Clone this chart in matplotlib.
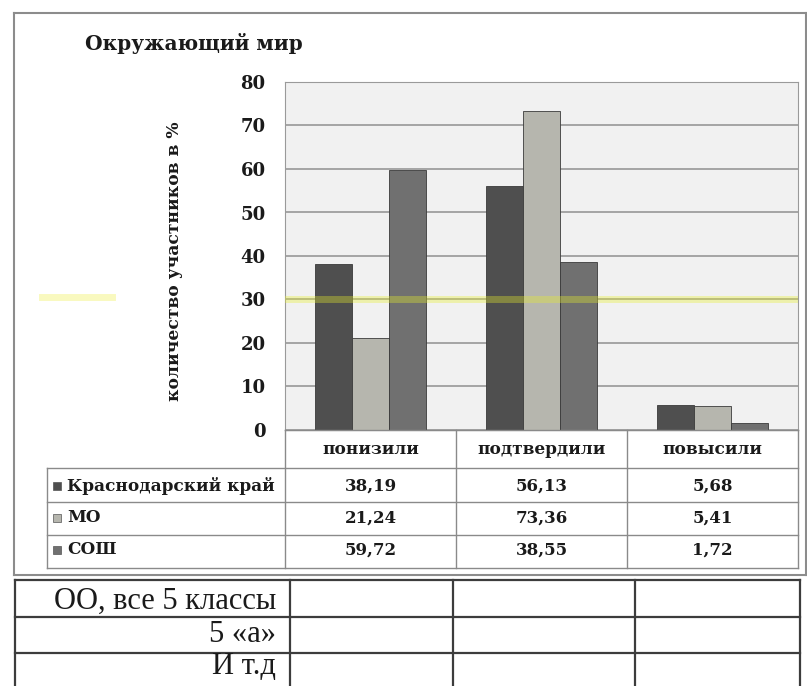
import matplotlib
matplotlib.use("Agg")
import matplotlib.pyplot as plt
from matplotlib.lines import Line2D
from matplotlib.patches import Rectangle

title = "Окружающий мир"
ylabel = "количество участников в %"
categories = ["понизили", "подтвердили", "повысили"]
series_names = ["Краснодарский край", "МО", "СОШ"]
krasnodar = [38.19, 56.13, 5.68]
mo = [21.24, 73.36, 5.41]
sosh = [59.72, 38.55, 1.72]
value_labels = [["38,19", "56,13", "5,68"],
                ["21,24", "73,36", "5,41"],
                ["59,72", "38,55", "1,72"]]
yticks = [0, 10, 20, 30, 40, 50, 60, 70, 80]
bottom_rows = ["ОО, все 5 классы", "5 «а»", "И т.д"]
colors = ["#4f4f4f", "#b6b6ae", "#707070"]

W, H = 807, 686
fig = plt.figure(figsize=(W / 100, H / 100), dpi=100)
fig.patch.set_facecolor("white")
SERIF = ["DejaVu Serif"]
TIMES = ["Liberation Serif", "DejaVu Serif"]


def fx(x):
    return x / W


def fy(y):
    return 1 - y / H


def hline(x0, x1, y, color="#8a8a8a", lw=1.0):
    fig.add_artist(Line2D([fx(x0), fx(x1)], [fy(y), fy(y)], color=color, lw=lw,
                          transform=fig.transFigure))


def vline(x, y0, y1, color="#8a8a8a", lw=1.0):
    fig.add_artist(Line2D([fx(x), fx(x)], [fy(y0), fy(y1)], color=color, lw=lw,
                          transform=fig.transFigure))


def text(x, y, s, size, ha="center", weight="bold", family=SERIF, **kw):
    fig.text(fx(x), fy(y), s, fontsize=size, ha=ha, va="center",
             family=family, weight=weight, color="#1a1a1a", **kw)


# axes region (pixels)
L, R, T, B = 285, 798, 82, 430
ax = fig.add_axes([fx(L), fy(B), fx(R - L), fy(T) - fy(B)])
ax.set_facecolor("#f1f1f1")
ax.set_xlim(-0.5, 2.5)
ax.set_ylim(0, 80)
ax.set_yticks(yticks)
ax.yaxis.grid(True, color="#9e9e9e", lw=1.3)
ax.set_axisbelow(True)
ax.set_xticks([])
ax.tick_params(axis="y", length=0, pad=14)
ax.set_yticklabels([str(v) for v in yticks], family=SERIF, weight="bold",
                   fontsize=13, color="#1a1a1a")
for s in ax.spines.values():
    s.set_color("#9a9a9a")
    s.set_linewidth(0.8)

bw = 0.216
x = list(range(len(categories)))
for i, (vals, c) in enumerate(zip([krasnodar, mo, sosh], colors)):
    ax.bar([xi + (i - 1) * bw for xi in x], vals, width=bw, color=c,
           edgecolor="#3a3a3a", lw=0.6, zorder=3)

# faint highlighter streak (scan artefact)
ax.axhline(30, color="#e8ef2a", lw=5, alpha=0.35, zorder=4)
fig.add_artist(Line2D([fx(42), fx(112)], [fy(297), fy(297)], color="#eef04a",
                      lw=5, alpha=0.35, transform=fig.transFigure))

ax.set_ylabel(ylabel, family=SERIF, weight="bold", fontsize=12.3,
              color="#1a1a1a")
ax.yaxis.set_label_coords((183 - L) / (R - L), 1 - (261 - T) / (B - T),
                          transform=ax.transAxes)

# title
text(85, 43, title, 14.5, ha="left")

# data table
cols = [L, 456, 627, R]
tl = 47
rows = [B, 468, 502, 535, 568]
hline(L, R, B, lw=1.0)
for y in rows[1:]:
    hline(tl, R, y)
for xv in cols:
    vline(xv, B, rows[-1])
vline(tl, rows[1], rows[-1])
centers = [(cols[i] + cols[i + 1]) / 2 for i in range(3)]
for c, name in zip(centers, categories):
    text(c, 450, name, 12.2)
row_y = [486, 518, 550]
for r, (name, col) in enumerate(zip(series_names, colors)):
    fig.add_artist(Rectangle((fx(53), fy(row_y[r] + 4)), fx(8), fy(0) - fy(8),
                             facecolor=col, edgecolor="#555555", lw=0.5,
                             transform=fig.transFigure))
    text(67, row_y[r], name, 12.2, ha="left")
    for c, v in zip(centers, value_labels[r]):
        text(c, row_y[r], v, 12)

# outer chart frame
fc = "#8c8c8c"
hline(14, 806, 13, color=fc, lw=1.5)
hline(14, 806, 575, color=fc, lw=1.5)
vline(14, 13, 575, color=fc, lw=1.5)
vline(806, 13, 575, color=fc, lw=1.5)

# bottom table
bc = "#3c3c3c"
btop = [580, 617, 653]
for y in btop:
    hline(15, 800, y, color=bc, lw=1.6)
for xv in [15, 290, 453, 635, 800]:
    vline(xv, 580, 690, color=bc, lw=1.6)
for y, s in zip([601, 635, 667], bottom_rows):
    text(276, y, s, 22, ha="right", weight="normal", family=TIMES)

fig.savefig("out.png", dpi=100)
